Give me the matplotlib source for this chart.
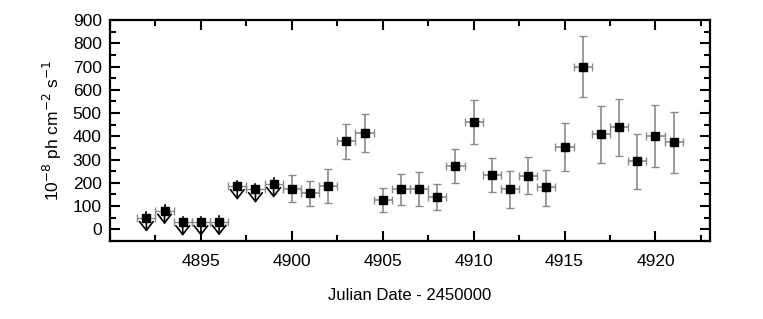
import matplotlib
matplotlib.use("Agg")
import matplotlib.pyplot as plt
from matplotlib.ticker import MultipleLocator, FixedLocator

plt.rcParams['font.family'] = ['Liberation Sans', 'DejaVu Sans']

# Upper-limit points
ul_days = [4892, 4893, 4894, 4895, 4896, 4897, 4898, 4899]
ul_flux = [48, 80, 30, 30, 32, 185, 172, 194]

# Detections
det_days = [4900, 4901, 4902, 4903, 4904, 4905, 4906, 4907, 4908, 4909, 4910,
            4911, 4912, 4913, 4914, 4915, 4916, 4917, 4918, 4919, 4920, 4921]
det_flux = [175, 156, 188, 380, 415, 125, 175, 175, 138, 274, 461,
            234, 174, 231, 180, 355, 699, 408, 438, 292, 402, 375]
det_hi = [235, 210, 260, 455, 494, 178, 240, 247, 195, 347, 556,
          307, 253, 311, 257, 459, 830, 530, 561, 410, 535, 505]
det_lo = [116, 100, 115, 304, 333, 73, 106, 99, 82, 200, 365,
          161, 93, 154, 100, 250, 568, 284, 314, 174, 268, 244]

x_ticks = [4895, 4900, 4905, 4910, 4915, 4920]
x_half_width = 0.5

fig = plt.figure(figsize=(7.63, 3.19), dpi=100)
ax = fig.add_axes([110/763, 1 - 241/319, 600/763, 221/319])

err_col = '#8a8a8a'
# Upper limits
ax.errorbar(ul_days, ul_flux, xerr=x_half_width, fmt='none', ecolor=err_col,
            elinewidth=1, capsize=3, capthick=1, zorder=2)
for d, f in zip(ul_days, ul_flux):
    ax.plot([d, d], [f, f + 25], color='black', lw=1.2, zorder=3)
    ax.annotate('', xy=(d, f - 58), xytext=(d, f),
                arrowprops=dict(arrowstyle='->, head_length=0.45, head_width=0.35',
                                color='black', lw=1.2,
                                mutation_scale=14, shrinkA=0, shrinkB=0),
                zorder=3)
ax.plot(ul_days, ul_flux, 's', color='black', ms=5.3, zorder=4)

# Detections
yerr = [[f - lo for f, lo in zip(det_flux, det_lo)],
        [hi - f for f, hi in zip(det_flux, det_hi)]]
ax.errorbar(det_days, det_flux, xerr=x_half_width, yerr=yerr, fmt='s',
            color='black', ms=5.3, ecolor=err_col, elinewidth=1.2, capsize=3,
            capthick=1, zorder=3)

ax.set_xlim(4890, 4923)
ax.set_ylim(-50, 900)
ax.xaxis.set_major_locator(FixedLocator(x_ticks))
ax.xaxis.set_minor_locator(MultipleLocator(2.5))
ax.yaxis.set_major_locator(MultipleLocator(100))
ax.yaxis.set_minor_locator(MultipleLocator(50))
ax.tick_params(which='both', direction='in', top=True, right=True,
               labelsize=12.5, width=1.5)
ax.tick_params(which='major', length=7)
ax.tick_params(which='minor', length=4)
ax.tick_params(axis='x', which='major', pad=9)
ax.tick_params(axis='y', which='major', pad=6)
for s in ax.spines.values():
    s.set_linewidth(1.6)

ax.set_xlabel('Julian Date - 2450000', fontsize=12, labelpad=14)
ax.set_ylabel(r'10$^{-8}$ ph cm$^{-2}$ s$^{-1}$', fontsize=12.5, labelpad=6)

fig.savefig('out.png', dpi=100)
